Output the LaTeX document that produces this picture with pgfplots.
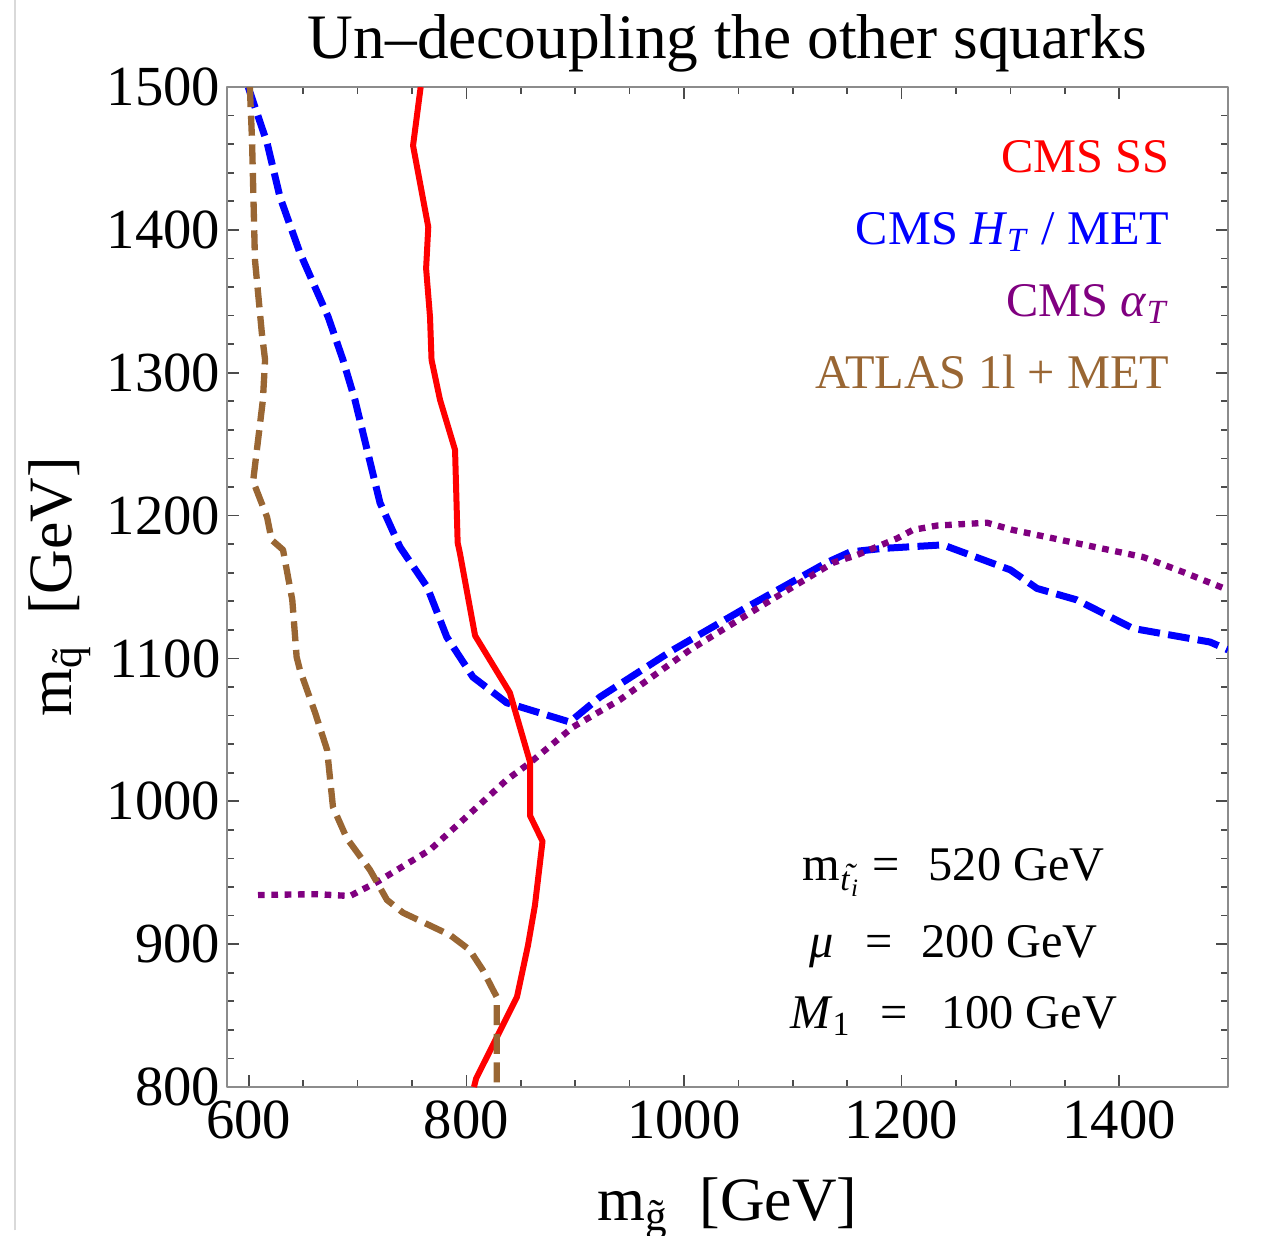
\documentclass[border=0pt]{standalone}
\usepackage{fontspec}
\setmainfont{Liberation Serif}
\usepackage{pgfplots}
\pgfplotsset{compat=1.18}
\definecolor{mbrown}{rgb}{0.6,0.4,0.2}
\definecolor{mpurple}{rgb}{0.5,0,0.5}
\newcommand{\ttilde}{\textit{\rlap{\hspace{0.1em}\raisebox{0.1em}{˜}}t}}
\begin{document}
\begin{tikzpicture}
\useasboundingbox (-68.1pt,-44.4pt) rectangle (317.1pt,326.1pt);
\draw[black!15, line width=0.6pt] (-63.6pt,-43pt) -- (-63.6pt,326.1pt);
\begin{axis}[
  scale only axis, width=300.3pt, height=300pt,
  at={(0,0)}, anchor=south west,
  xmin=580, xmax=1500, ymin=800, ymax=1500,
  xtick={600,800,1000,1200,1400},
  ytick={800,900,1000,1100,1200,1300,1400,1500},
  minor x tick num=3, minor y tick num=4,
  tick align=inside,
  major tick length=3.6pt, minor tick length=2.2pt,
  axis line style={black!45, line width=0.6pt},
  every tick/.style={black!70, line width=0.5pt},
  /pgf/number format/1000 sep={},
  tick label style={font=\fontsize{17}{17}\selectfont, /pgf/number format/assume math mode=true},
  xticklabel style={anchor=north, inner sep=0pt, yshift=-3.9pt},
  yticklabel style={anchor=east, inner sep=0pt, xshift=-1.8pt},
  title={Un–decoupling the other squarks},
  title style={at={(axis description cs:0.5,1)}, anchor=base, yshift=2.7pt, inner sep=0pt, font=\fontsize{19}{19}\selectfont},
  xlabel={m\textsubscript{\~{g}}\hspace{0.5em}[GeV]},
  ylabel={m\textsubscript{\~{q}}\hspace{0.5em}[GeV]},
  xlabel style={at={(axis description cs:0.5,-0.133)}, anchor=base, inner sep=0pt, font=\fontsize{18.5}{18.5}\selectfont},
  ylabel style={at={(axis description cs:-0.155,0.5)}, anchor=base, inner sep=0pt, font=\fontsize{18.5}{18.5}\selectfont},
  line join=round,
]
% CMS HT/MET (blue, dashed)
\addplot[blue, line width=2.1pt, dash pattern=on 6.5pt off 2.5pt] coordinates {
(599.5,1500) (605.7,1486) (616.8,1461) (628.7,1423) (647,1384) (673,1339) (686.6,1309)
(697.6,1281) (720.6,1209) (739,1178) (764,1150) (782,1115) (806,1087) (837,1069)
(895,1055.5) (922.8,1073) (990,1106) (1058,1136) (1131,1167) (1152.6,1174.5) (1182,1177)
(1238,1179.5) (1300,1162) (1324.5,1149) (1361,1141) (1412.7,1121) (1483.5,1111.5) (1500,1106)
};
% CMS alphaT (purple, dotted)
\addplot[mpurple, line width=1.9pt, dash pattern=on 2pt off 2pt] coordinates {
(608.5,934.4) (662.7,935) (693,933.7) (717.9,943.5) (766.6,966) (797,987) (837,1015)
(858.5,1027) (898,1052) (941,1071) (1005.5,1106) (1076,1139) (1137,1167) (1159,1172.4)
(1195.8,1184) (1210.5,1190) (1232.6,1193) (1278.5,1195) (1302,1190) (1422,1171)
(1458.7,1160.5) (1500,1148)
};
% CMS SS (red, solid)
\addplot[red, line width=1.8pt] coordinates {
(807,800) (809,806) (846.5,863) (856.6,899) (863,927) (870,972) (858.5,990) (858.5,1027.5)
(840,1076) (808,1116) (794,1174) (792,1181) (789.6,1246) (775.8,1281) (768,1309) (766.6,1339)
(763,1373) (765,1402) (751,1459) (758,1500)
};
% ATLAS 1l + MET (brown, dashed)
\addplot[mbrown, line width=1.9pt, dash pattern=on 6pt off 2.6pt] coordinates {
(601,1500) (603,1463) (605.7,1379) (612,1328) (615,1309) (613,1281) (604,1224) (616.8,1199)
(621,1183) (631.5,1176) (640,1141) (644,1101) (647,1092) (661,1062) (672,1036) (677.4,996)
(690,974.3) (711.4,952) (727,931) (741.8,922) (785,906.4) (803,896) (815,882) (824.5,868)
(828,863) (828,800)
};
\begin{scope}[every node/.style={inner sep=0pt, font=\fontsize{14.5}{14.5}\selectfont}]
\node[anchor=base east, text=red] at (rel axis cs:0.942,0.915) {CMS SS};
\node[anchor=base east, text=blue] at (rel axis cs:0.942,0.843) {CMS \textit{H}\textsubscript{\textit{T}} / MET};
\node[anchor=base east, text=mpurple] at (rel axis cs:0.942,0.771) {CMS \textit{α}\textsubscript{\textit{T}}};
\node[anchor=base east, text=mbrown] at (rel axis cs:0.942,0.699) {ATLAS 1l + MET};
\node[anchor=base] at (rel axis cs:0.726,0.207) {m\raisebox{-0.45ex}{\fontsize{10}{10}\selectfont\ttilde\kern0.02em\raisebox{-0.4ex}{\fontsize{7.5}{7.5}\selectfont\textit{i}}}\hspace{0.3em}=\hspace{0.6em}520 GeV};
\node[anchor=base] at (rel axis cs:0.726,0.130) {\textit{μ}\hspace{0.65em}=\hspace{0.6em}200 GeV};
\node[anchor=base] at (rel axis cs:0.726,0.059) {\textit{M}\textsubscript{1}\hspace{0.6em}=\hspace{0.7em}100 GeV};
\end{scope}
\end{axis}
\end{tikzpicture}
\end{document}
